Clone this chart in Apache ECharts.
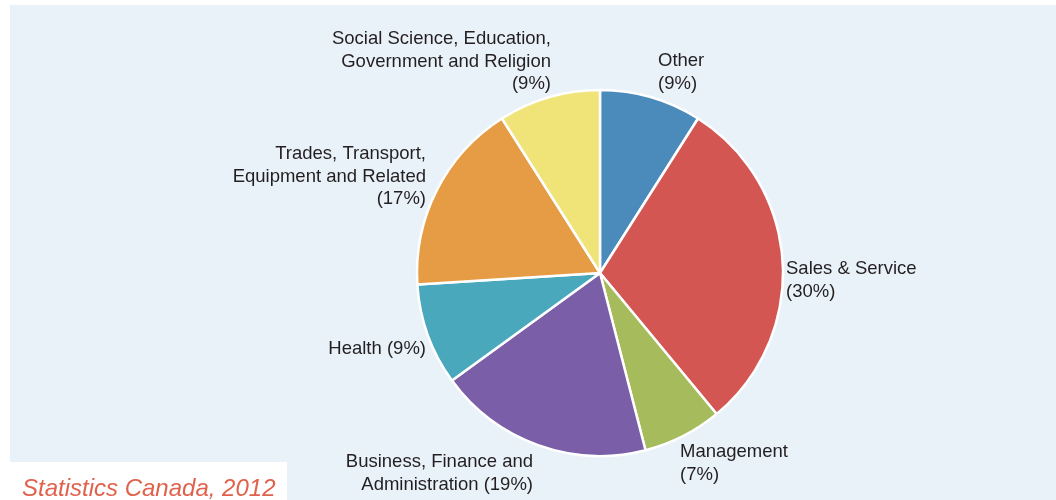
<!DOCTYPE html>
<html>
<head>
<meta charset="utf-8">
<script src="https://cdn.jsdelivr.net/npm/echarts@6/dist/echarts.min.js"></script>
<style>
html,body{margin:0;padding:0;background:#fff;}
#c{width:1056px;height:500px;}
</style>
</head>
<body>
<div id="c"></div>
<script>
const categories = [
  "Other",
  "Sales & Service",
  "Management",
  "Business, Finance and\nAdministration",
  "Health",
  "Trades, Transport,\nEquipment and Related",
  "Social Science, Education,\nGovernment and Religion"
];
const shares = [9, 30, 7, 19, 9, 17, 9];
const colors = ["#4a8bbb", "#d35652", "#a6bb5b", "#7b5ea8", "#4aa8bd", "#e69b45", "#f0e478"];
const separators = ["\n", "\n", "\n", " ", " ", "\n", "\n"];
const sourceText = "Statistics Canada, 2012";

// label anchor layout (styling only)
const labelLayouts = [
  {x: 658, y: 50, align: "left"},
  {x: 786, y: 258, align: "left"},
  {x: 680, y: 441, align: "left"},
  {x: 533, y: 451, align: "right"},
  {x: 426, y: 338, align: "right"},
  {x: 426, y: 143, align: "right"},
  {x: 551, y: 28, align: "right"}
];

const chart = echarts.init(document.getElementById('c'));
chart.setOption({
  backgroundColor: '#ffffff',
  animation: false,
  graphic: [
    {type: 'rect', shape: {x: 10, y: 5, width: 1046, height: 495}, style: {fill: '#e9f1f9'}, z: -10},
    {type: 'rect', shape: {x: 10, y: 462, width: 277, height: 38}, style: {fill: '#ffffff'}, z: 10},
    {type: 'text', x: 22, y: 489, z: 11, style: {text: sourceText, fill: '#e0624c', font: 'italic 24px "Liberation Sans", Arial, sans-serif', textVerticalAlign: 'middle'}}
  ],
  series: [{
    type: 'pie',
    center: [600, 273],
    radius: [0, 183],
    startAngle: 90,
    clockwise: true,
    data: categories.map((n, i) => ({name: n, value: shares[i], itemStyle: {color: colors[i]}})),
    itemStyle: {borderColor: '#ffffff', borderWidth: 2.5},
    label: {
      show: true,
      position: 'outside',
      color: '#231f20',
      fontFamily: '"Liberation Sans", Arial, sans-serif',
      fontSize: 18.5,
      lineHeight: 22.5,
      formatter: p => p.name + separators[p.dataIndex] + '(' + p.value + '%)'
    },
    labelLine: {show: false},
    labelLayout: p => {
      const l = labelLayouts[p.dataIndex];
      return {x: l.x, y: l.y, align: l.align, verticalAlign: 'top'};
    }
  }]
});
</script>
</body>
</html>
